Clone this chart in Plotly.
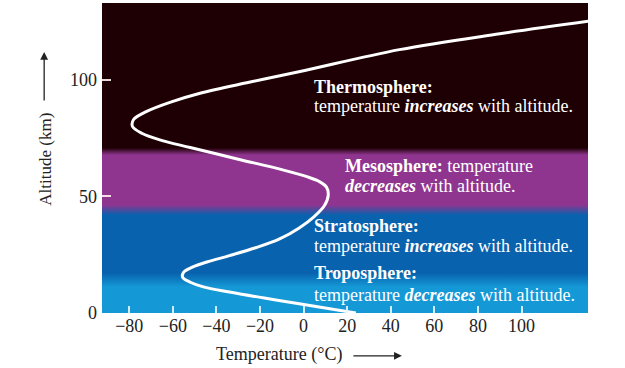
import plotly.graph_objects as go

# ---- data ----
# temperature profile (°C) vs altitude (km)
temperature_c = [24, 12, -2, -18, -34, -46, -52, -55.5, -55, -51, -44, -34, -22, -11, -2, 5, 9.5, 11.3, 10.5, 7, 1.5, -10, -30, -52, -66, -74, -78.5, -78, -72, -61, -47.5, -25, -1.6, 44, 90, 131]
altitude_km   = [0, 1.8, 4.0, 6.4, 9.0, 11.2, 13.2, 15.3, 17.5, 19.7, 22.0, 24.6, 28.0, 31.8, 36.5, 41.5, 46.0, 50.5, 54.0, 56.5, 58.5, 61.5, 66.0, 71.0, 74.3, 77.0, 80.0, 83.0, 86.5, 90.5, 94.3, 99.0, 103.6, 113.0, 119.8, 125.2]

# atmospheric layers: colour stops of the background (altitude km, colour)
layer_names = ["Troposphere", "Stratosphere", "Mesosphere", "Thermosphere"]
layer_colors = ["#1598d6", "#0862ad", "#8f3590", "#1e0004"]
layer_bottom_km = [0, 17.2, 46.4, 70.8]   # where a layer's colour is fully reached
layer_top_km = [11.2, 42.0, 67.8, 133.0]  # where a layer's colour ends

x_tick_vals = [-80, -60, -40, -20, 0, 20, 40, 60, 80, 100]
y_tick_vals = [0, 50, 100]
X_RANGE = [-92.5, 130.5]
Y_RANGE = [0, 133]

FONT = "Liberation Serif"

# ---- background gradient ----
span = Y_RANGE[1] - Y_RANGE[0]
cscale = []
for b, t, c in zip(layer_bottom_km, layer_top_km, layer_colors):
    cscale.append([(b - Y_RANGE[0]) / span, c])
    cscale.append([(t - Y_RANGE[0]) / span, c])

fig = go.Figure()
fig.add_trace(go.Scatter(
    x=[X_RANGE[0], X_RANGE[1], X_RANGE[1], X_RANGE[0], X_RANGE[0]],
    y=[Y_RANGE[0], Y_RANGE[0], Y_RANGE[1], Y_RANGE[1], Y_RANGE[0]],
    mode="lines", line=dict(width=0), fill="toself",
    fillgradient=dict(type="vertical", colorscale=cscale, start=Y_RANGE[0], stop=Y_RANGE[1]),
    hoverinfo="skip", showlegend=False,
))

fig.add_trace(go.Scatter(
    x=temperature_c, y=altitude_km, mode="lines",
    line=dict(color="white", width=3, shape="spline", smoothing=1.0),
    showlegend=False,
))

# ---- layer descriptions ----
txt = dict(font=dict(family=FONT, size=18, color="white"), showarrow=False,
           xanchor="left", yanchor="middle", xref="x", yref="y")
labels = [
    (3.9, 97.0, "<b>Thermosphere:</b>"),
    (3.9, 88.8, "temperature <b><i>increases</i></b> with altitude."),
    (18.1, 63.1, "<b>Mesosphere:</b> temperature"),
    (18.1, 54.5, "<b><i>decreases</i></b> with altitude."),
    (3.9, 37.3, "<b>Stratosphere:</b>"),
    (3.9, 28.8, "temperature <b><i>increases</i></b> with altitude."),
    (3.9, 17.2, "<b>Troposphere:</b>"),
    (3.9, 7.7, "temperature <b><i>decreases</i></b> with altitude."),
]
for x, y, t in labels:
    fig.add_annotation(x=x, y=y, text=t, **txt)

# ---- axis titles with arrows ----
tfont = dict(family=FONT, size=18, color="#222")
fig.add_annotation(xref="paper", yref="paper", x=0.365, y=-0.135, text="Temperature (°C)",
                   showarrow=False, font=tfont, xanchor="center", yanchor="middle")
fig.add_annotation(xref="paper", yref="paper", x=0.617, y=-0.138, text="",
                   showarrow=True, ax=-50, ay=0, arrowhead=2, arrowsize=1.2,
                   arrowwidth=1.3, arrowcolor="#222")
fig.add_annotation(xref="paper", yref="paper", x=-0.117, y=0.495, text="Altitude (km)",
                   showarrow=False, font=dict(family=FONT, size=17, color="#222"),
                   textangle=-90, xanchor="center", yanchor="middle")
fig.add_annotation(xref="paper", yref="paper", x=-0.119, y=0.842, text="",
                   showarrow=True, ax=0, ay=50, arrowhead=2, arrowsize=1.2,
                   arrowwidth=1.3, arrowcolor="#222")

fig.update_layout(
    width=625, height=368,
    margin=dict(l=102, r=37, t=3, b=55),
    paper_bgcolor="white", plot_bgcolor="white",
    font=dict(family=FONT, size=18, color="#222"),
    xaxis=dict(range=X_RANGE, tickvals=x_tick_vals, ticks="inside", ticklen=7,
               tickwidth=1.5, tickcolor="rgba(230,245,255,0.9)", showgrid=False,
               zeroline=False, showline=False, tickfont=dict(family=FONT, size=18, color="#222")),
    yaxis=dict(range=Y_RANGE, tickvals=y_tick_vals, ticks="inside", ticklen=9,
               tickwidth=1.5, tickcolor="rgba(255,240,240,0.9)", showgrid=False,
               zeroline=False, showline=False, ticklabelstandoff=4,
               tickfont=dict(family=FONT, size=18, color="#222")),
)

fig.write_html("out.html", config={"displayModeBar": False},
               post_script="document.body.style.margin='0';")
